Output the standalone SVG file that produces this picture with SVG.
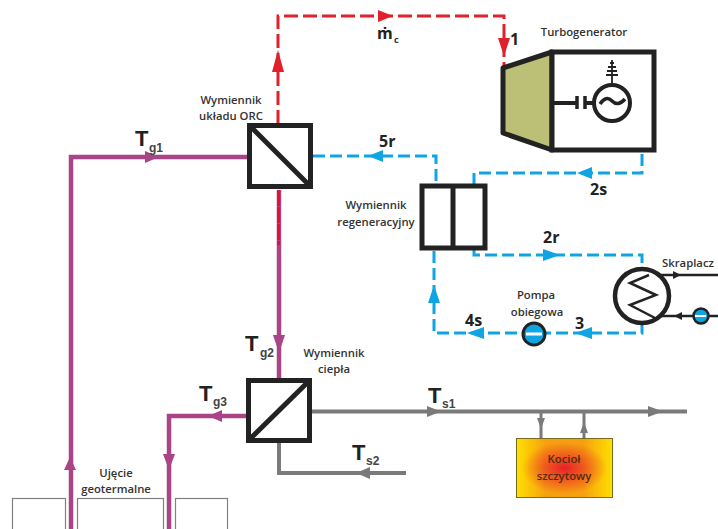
<svg xmlns="http://www.w3.org/2000/svg" width="718" height="529" viewBox="0 0 718 529">
<style>
text{font-family:"Open Sans","Liberation Sans",sans-serif;font-weight:600;fill:#333}
.lb{font-size:11.300px;text-anchor:middle}
.st{font-family:"Liberation Sans",sans-serif;font-weight:700;font-size:22px;fill:#222}
.sub{font-family:"Liberation Sans",sans-serif;font-weight:700;font-size:12px;fill:#444}
.n{font-size:16px;font-weight:700;fill:#222;font-family:"Open Sans",sans-serif}
.box{fill:#fff;stroke:#222;stroke-width:5}
.red{fill:none;stroke:#e0202a;stroke-width:3;stroke-dasharray:14 5}
.blue{fill:none;stroke:#0ea5e2;stroke-width:3;stroke-dasharray:12 5}
.pur{fill:none;stroke:#ab4487;stroke-width:4.500}
.gry{fill:none;stroke:#7a7a7a;stroke-width:4}
.well{fill:#fff;stroke:#808080;stroke-width:1.2}
</style>
<defs>
<linearGradient id="kl"><stop offset="0" stop-color="#ffe000"/><stop offset="0.3" stop-color="#f6a010"/><stop offset="0.7" stop-color="#f6a010"/><stop offset="1" stop-color="#ffe000"/></linearGradient>
<radialGradient id="kg" cx="50%" cy="50%" r="45%"><stop offset="0" stop-color="#e8202a"/><stop offset="1" stop-color="#e8202a" stop-opacity="0"/></radialGradient>
</defs>
<g id="wells">
<rect class="well" x="12.500" y="498.500" width="53" height="40"/>
<rect class="well" x="77.500" y="498.500" width="86" height="40"/>
<rect class="well" x="175.500" y="498.500" width="52" height="40"/>
</g>
<g id="connectors">
<path class="red" d="M278 124V16H504V66"/>
<path d="M272 72l6-22 6 22zM378 10l15 6-15 6zM498 38h12l-6 18z" fill="#e0202a"/>
<path d="M279 190V378" fill="none" stroke="#ab4487" stroke-width="4.500"/>
<path d="M278.500 190V245" fill="none" stroke="#e8102a" stroke-width="3" stroke-dasharray="16 1"/>
<path d="M273 335h12l-6 18z" fill="#ab4487"/>
<path class="pur" d="M71 529V157H248"/>
<path d="M64 470l6-13 6 13zM145 151l14 6-14 6z" fill="#ab4487"/>
<path class="pur" d="M169 529V416H248"/>
<path d="M222 410l-14 6 14 6zM163 454h12l-6 16z" fill="#ab4487"/>
<path class="gry" d="M312 411.500H687"/>
<path class="gry" d="M279 441V473H406"/>
<path d="M648 406l15 5.500-15 5.500zM427 406l14 5.500-14 5.500zM370 467l-14 6 14 6z" fill="#7a7a7a"/>
<path class="gry" style="stroke-width:3" d="M541 411V438M584 411V438"/>
<path d="M537 418h8l-4 11zM580 433h8l-4-11z" fill="#7a7a7a"/>
<path class="blue" d="M313 156H436V185M474 185V173H642V150"/>
<path d="M383 150l-15 6 15 6zM592 167l-15 6 15 6z" fill="#0ea5e2"/>
<path class="blue" d="M474 249V255H642V270"/>
<path d="M543 249l17 6-17 6z" fill="#0ea5e2"/>
<path class="blue" d="M642 322V333H434V250"/>
<path d="M428 303l6-18 6 18zM592 327l-17 6 17 6zM484 327l-17 6 17 6z" fill="#0ea5e2"/>
<path d="M660 275H718M658 316H718" fill="none" stroke="#222" stroke-width="2.500"/>
<path d="M673 271l8 4-8 4zM682 312l-8 4 8 4z" fill="#222"/>
</g>
<g id="turbogenerator">
<path d="M503 68L552 52V150L503 133z" fill="#bcc077" stroke="#222" stroke-width="5" stroke-linejoin="round"/>
<rect class="box" x="552" y="52" width="102" height="98"/>
<path d="M553 103H576M586 103H594" stroke="#222" stroke-width="4"/>
<path d="M577 96V109M585 96V109" stroke="#222" stroke-width="3.500"/>
<circle cx="612" cy="103" r="18" fill="#fff" stroke="#222" stroke-width="4"/>
<path d="M600 104q6-9 12-3t13-2" fill="none" stroke="#222" stroke-width="3.500"/>
<path d="M612 85V60M610 63h4M608 67h8M607 71h10M606 75h12" stroke="#222" stroke-width="1.800"/>
<text class="lb" x="584" y="36">Turbogenerator</text>
</g>
<g id="orc"><rect class="box" x="249.500" y="125.500" width="61" height="61"/><path d="M251 127L309 185" stroke="#222" stroke-width="5"/>
<text class="lb" x="231" y="104">Wymiennik</text><text class="lb" x="231" y="120">układu ORC</text></g>
<g id="regen"><rect class="box" x="422" y="186" width="63" height="62"/><path d="M453 186V248" stroke="#222" stroke-width="5"/>
<text class="lb" x="376" y="209">Wymiennik</text><text class="lb" x="376" y="226">regeneracyjny</text></g>
<g id="skraplacz"><circle cx="642" cy="296" r="27" fill="#fff" stroke="#222" stroke-width="4.500"/>
<path d="M649 275L630 283L656 295L630 305L655 318" fill="none" stroke="#222" stroke-width="2.500"/>
<text class="lb" x="688" y="267">Skraplacz</text></g>
<g id="pump2"><circle cx="701" cy="316" r="7.500" fill="#0ea5e2" stroke="#222" stroke-width="2.500"/><path d="M695 316h11" stroke="#fff" stroke-width="2"/></g>
<g id="pump"><circle cx="534" cy="334" r="11" fill="#0ea5e2" stroke="#222" stroke-width="3"/><path d="M526 334h16" stroke="#fff" stroke-width="3"/>
<text class="lb" x="536" y="299">Pompa</text><text class="lb" x="537" y="316">obiegowa</text></g>
<g id="hx"><rect class="box" x="248.500" y="380.500" width="61" height="60"/><path d="M250 439L309 381" stroke="#222" stroke-width="5"/>
<text class="lb" x="334" y="357">Wymiennik</text><text class="lb" x="334" y="373">ciepła</text></g>
<g id="kociol"><rect x="516.500" y="438.500" width="96" height="59" fill="url(#kl)" stroke="#7a6a20" stroke-width="1"/><rect x="517" y="439" width="95" height="58" fill="url(#kg)"/>
<text class="lb" x="564" y="463" style="fill:#5a2a10">Kocioł</text><text class="lb" x="564" y="480" style="fill:#5a2a10">szczytowy</text></g>
<g id="labels">
<text class="lb" x="116" y="477">Ujęcie</text><text class="lb" x="116" y="493">geotermalne</text>
<text class="st" x="135" y="146">T</text><text class="sub" x="149" y="152">g1</text>
<text class="st" x="245" y="351">T</text><text class="sub" x="260" y="357">g2</text>
<text class="st" x="199" y="401">T</text><text class="sub" x="213" y="406">g3</text>
<text class="st" x="428" y="403">T</text><text class="sub" x="442" y="408">s1</text>
<text class="st" x="352" y="460">T</text><text class="sub" x="366" y="465">s2</text>
<text class="n" x="510" y="45">1</text><text class="n" x="379" y="147">5r</text><text class="n" x="590" y="195">2s</text><text class="n" x="543" y="243">2r</text><text class="n" x="575" y="329">3</text><text class="n" x="465" y="326">4s</text>
<text class="n" x="377" y="39">ṁ</text><text style="font-size:9px;font-weight:700" x="394" y="43">c</text>
</g>
</svg>
